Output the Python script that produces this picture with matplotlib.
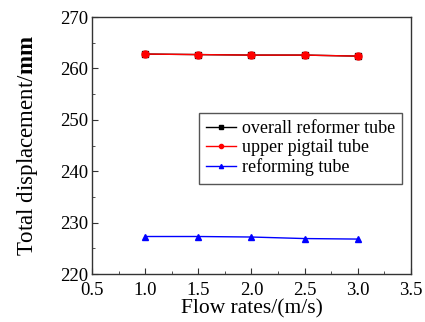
import matplotlib
matplotlib.use("Agg")
import matplotlib.pyplot as plt

# data
flow_rates = [1.0, 1.5, 2.0, 2.5, 3.0]
overall_tube = [262.8, 262.7, 262.6, 262.6, 262.4]
upper_pigtail = [262.8, 262.7, 262.6, 262.6, 262.4]
reforming_tube = [227.3, 227.3, 227.2, 226.9, 226.8]

x_ticks = [0.5, 1.0, 1.5, 2.0, 2.5, 3.0, 3.5]
y_ticks = [220, 230, 240, 250, 260, 270]

plt.rcParams["font.family"] = "Liberation Serif"
plt.rcParams["mathtext.fontset"] = "custom"
plt.rcParams["mathtext.rm"] = "Liberation Serif"
plt.rcParams["mathtext.bf"] = "Liberation Serif:bold"

fig = plt.figure(figsize=(4.25, 3.22), dpi=100)
ax = fig.add_axes([0.2165, 0.149, 0.7505, 0.798])

ax.plot(flow_rates, overall_tube, color="black", marker="s",
        markersize=5, linewidth=1, label="overall reformer tube")
ax.plot(flow_rates, upper_pigtail, color="#ff0000", marker="o",
        markersize=5, linewidth=1, label="upper pigtail tube")
ax.plot(flow_rates, reforming_tube, color="#0000ff", marker="^",
        markersize=5, linewidth=1, label="reforming tube")

ax.set_xlim(0.5, 3.5)
ax.set_ylim(220, 270)
ax.set_xticks(x_ticks)
ax.set_yticks(y_ticks)
ax.set_xticklabels([f"{v:.1f}" for v in x_ticks])
ax.set_xticks([0.75, 1.25, 1.75, 2.25, 2.75, 3.25], minor=True)
ax.set_yticks([225, 235, 245, 255, 265], minor=True)

ax.tick_params(axis="both", which="major", direction="in", length=4,
               labelsize=13.5, top=False, right=False, color="#333333")
ax.tick_params(axis="x", which="major", pad=6)
ax.tick_params(axis="y", which="major", pad=3)
ax.tick_params(axis="both", which="minor", direction="in", length=2,
               top=False, right=False, color="#333333")
for s in ax.spines.values():
    s.set_color("#333333")
    s.set_linewidth(1)

ax.set_xlabel("Flow rates/(m/s)", fontsize=15.5, labelpad=0)
ax.set_ylabel(r"Total displacement/$\mathbf{mm}$", fontsize=16.5,
              labelpad=14)

leg = ax.legend(loc="upper right", bbox_to_anchor=(0.973, 0.627),
                fontsize=13, fancybox=False, edgecolor="#555555",
                handlelength=1.7, handletextpad=0.3, labelspacing=0.12,
                borderpad=0.4, borderaxespad=0, markerscale=0.6,
                framealpha=1)
leg.get_frame().set_linewidth(1)

fig.savefig("out.png", dpi=100)
